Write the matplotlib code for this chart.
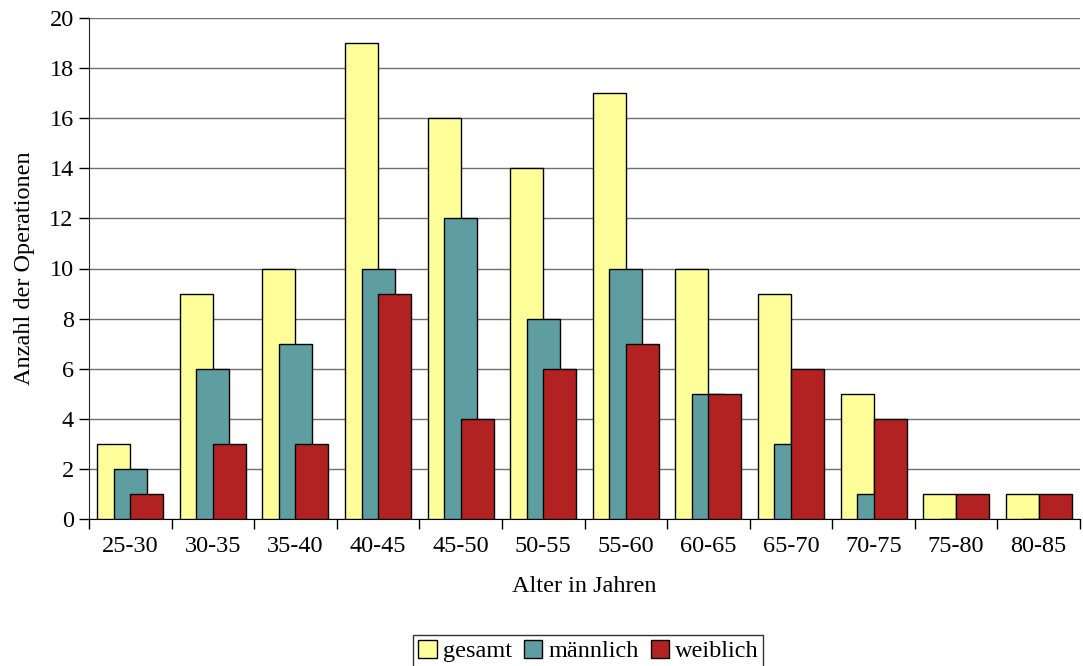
import numpy as np
import matplotlib.pyplot as plt
from matplotlib.ticker import MultipleLocator, FixedLocator

plt.rcParams['font.family'] = ['Liberation Serif', 'DejaVu Serif']

# Altersgruppen und Anzahl der Operationen
altersgruppen = ['25-30', '30-35', '35-40', '40-45', '45-50', '50-55',
                 '55-60', '60-65', '65-70', '70-75', '75-80', '80-85']
gesamt = [3, 9, 10, 19, 16, 14, 17, 10, 9, 5, 1, 1]
maennlich = [2, 6, 7, 10, 12, 8, 10, 5, 3, 1, 0, 0]
weiblich = [1, 3, 3, 9, 4, 6, 7, 5, 6, 4, 1, 1]

fs = 17.5

fig = plt.figure(figsize=(10.83, 6.66), dpi=100)
ax = fig.add_axes([89 / 1083, 1 - 519 / 666, 991 / 1083, 501 / 666])

x = np.arange(len(altersgruppen))
breite = 0.4
ax.bar(x - 0.2, gesamt, breite, color='#FFFF99', edgecolor='black',
       linewidth=1, label='gesamt', zorder=3)
ax.bar(x, maennlich, breite, color='#5F9EA0', edgecolor='black',
       linewidth=1, label='männlich', zorder=4)
ax.bar(x + 0.2, weiblich, breite, color='#B22222', edgecolor='black',
       linewidth=1, label='weiblich', zorder=5)

ax.set_xlim(-0.5, len(altersgruppen) - 0.5)
ax.set_ylim(0, 20)
ax.yaxis.set_major_locator(MultipleLocator(2))
ax.grid(axis='y', color='#707070', linewidth=1, zorder=0)

# Kategoriebeschriftungen mittig, Striche zwischen den Kategorien
ax.xaxis.set_major_locator(FixedLocator(np.arange(-0.5, len(altersgruppen), 1)))
ax.xaxis.set_minor_locator(FixedLocator(x))
ax.set_xticklabels([])
ax.set_xticklabels(altersgruppen, minor=True)
ax.tick_params(axis='x', which='major', direction='out', length=7, width=1)
ax.tick_params(axis='x', which='minor', length=0, pad=12, labelsize=fs)
ax.tick_params(axis='y', direction='out', length=7, width=1, labelsize=fs, pad=4)

for s in ['top', 'right']:
    ax.spines[s].set_visible(False)
ax.spines['left'].set_color('#1a2a2a')
ax.spines['bottom'].set_color('black')

ax.set_xlabel('Alter in Jahren', fontsize=fs, labelpad=14)
ax.set_ylabel('Anzahl der Operationen', fontsize=fs, labelpad=10)

ax.legend(loc='upper center', bbox_to_anchor=(0.504, -0.232), ncol=3,
          frameon=True, fancybox=False, edgecolor='black', fontsize=fs,
          handlelength=0.75, handleheight=0.75, handletextpad=0.25,
          columnspacing=0.5, borderpad=0.2, borderaxespad=0)

fig.savefig('out.png', dpi=100)
